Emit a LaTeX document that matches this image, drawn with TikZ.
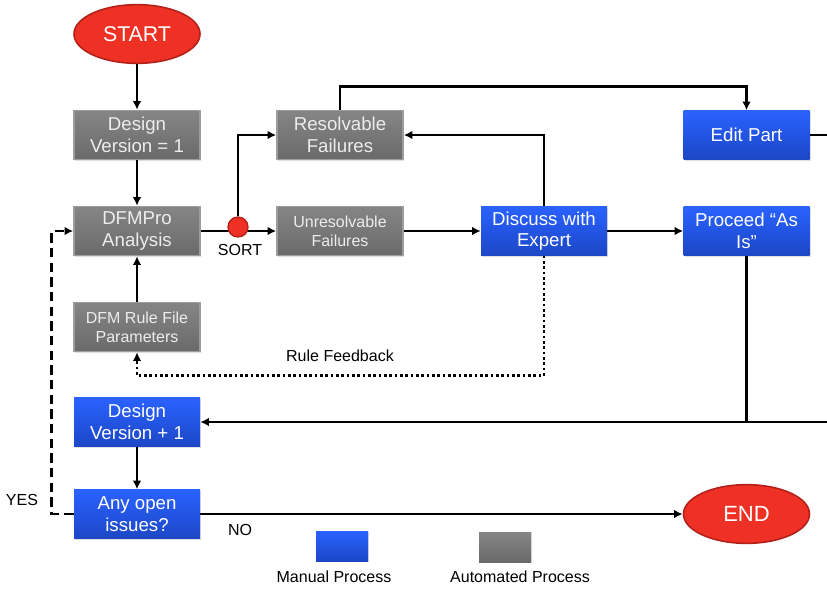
\documentclass[tikz,border=0pt]{standalone}
\usepackage{fontspec}
\setmainfont{Liberation Sans}
\usetikzlibrary{arrows.meta,shadows,shapes.geometric,calc}
\definecolor{gtop}{HTML}{858585}
\definecolor{gbot}{HTML}{6A6A6A}
\definecolor{gedge}{HTML}{9C9C9C}
\definecolor{btop}{HTML}{2A62FF}
\definecolor{bbot}{HTML}{1C47C6}
\definecolor{rfill}{HTML}{EE3124}
\definecolor{redge}{HTML}{B3211A}
\tikzset{
  box/.style={rectangle, minimum width=94.5pt, minimum height=36.75pt, align=center,
    inner sep=1pt, font=\fontsize{14}{16.2}\selectfont, text=white},
  autobox/.style={box, top color=gtop, bottom color=gbot, draw=gedge, line width=1.2pt,
    text=white!93!black, drop shadow={opacity=0.25, shadow xshift=1pt, shadow yshift=-1pt}},
  manbox/.style={box, top color=btop, bottom color=bbot, draw=none,
    drop shadow={opacity=0.25, shadow xshift=1pt, shadow yshift=-1pt}},
  smalltxt/.style={font=\fontsize{12}{14.5}\selectfont},
  term/.style={ellipse, fill=rfill, draw=redge, line width=1.2pt, minimum width=94.5pt,
    minimum height=44pt, text=white, inner sep=0pt},
  plain/.style={line width=2pt},
  conn/.style={line width=2pt, -{Latex[length=6.5pt,width=6.5pt]}},
  lbl/.style={font=\fontsize{12}{14}\selectfont, inner sep=0pt}
}
\begin{document}
\begin{tikzpicture}[x=0.75pt,y=-0.75pt]
\useasboundingbox (0,0) rectangle (827,590);
% nodes
\node[term, font=\fontsize{16}{18}\selectfont] (start) at (137,34) {START};
\node[autobox] (dv1) at (137,135) {Design\\Version = 1};
\node[autobox] (dfm) at (137,231) {DFMPro\\Analysis};
\node[autobox, smalltxt] (rule) at (137,327) {DFM Rule File\\Parameters};
\node[autobox] (res) at (340,135) {Resolvable\\Failures};
\node[autobox, smalltxt] (unres) at (340,231) {Unresolvable\\Failures};
\node[manbox] (disc) at (544,231) {Discuss with\\Expert};
\node[manbox] (edit) at (746.5,135) {Edit Part};
\node[manbox] (proc) at (746.5,231) {Proceed “As\\Is”};
\node[manbox] (dv2) at (137,422) {Design\\Version + 1};
\node[manbox] (any) at (137,514) {Any open\\issues?};
\node[term, font=\fontsize{16.5}{18}\selectfont] (end) at (746.5,514) {END};
% legend
\node[manbox, minimum width=39pt, minimum height=22.5pt] (legm) at (342,546) {};
\node[lbl] (legmt) at (334,577) {Manual Process};
\node[autobox, draw=none, minimum width=39pt, minimum height=22.5pt] (lega) at (505,547) {};
\node[lbl] (legat) at (520,577) {Automated Process};
% free ends
\coordinate (eR) at (832,135);
\coordinate (rR) at (832,422);
% connectors
\draw[conn] (start) -- (dv1);
\draw[conn] (dv1) -- (dfm);
\draw[conn] (rule) -- (dfm);
\draw[conn] (dfm) -- (unres);
\node[circle, fill=rfill, draw=redge, line width=1pt, minimum size=15pt, inner sep=0pt] (sort) at (238,227) {};
\node[lbl] (sortt) at (240,250) {SORT};
\draw[conn] (sort.north) |- (res.west);
\draw[conn] (res.north) -- ++(0,-23) -| (edit.north);
\draw[conn] (unres) -- (disc);
\draw[conn] (disc.north) |- (res.east);
\draw[conn] (disc) -- (proc);
\draw[conn, dash pattern=on 2pt off 2pt] (disc.south) -- ++(0,120) -| (rule.south);
\node[lbl] (rf) at (340,356) {Rule Feedback};
\draw[plain] (edit.east) -- (eR);
\draw[conn] (rR) -- (dv2.east);
\draw[plain] (proc.south) -- (proc.south |- rR);
\draw[conn] (dv2) -- (any);
\draw[conn] (any) -- (end);
\node[lbl] (no) at (240,530) {NO};
\draw[conn, dash pattern=on 7pt off 4pt] (any.west) -- ++(-22,0) |- (dfm.west);
\node[lbl] (yes) at (22,500) {YES};
\end{tikzpicture}
\end{document}
